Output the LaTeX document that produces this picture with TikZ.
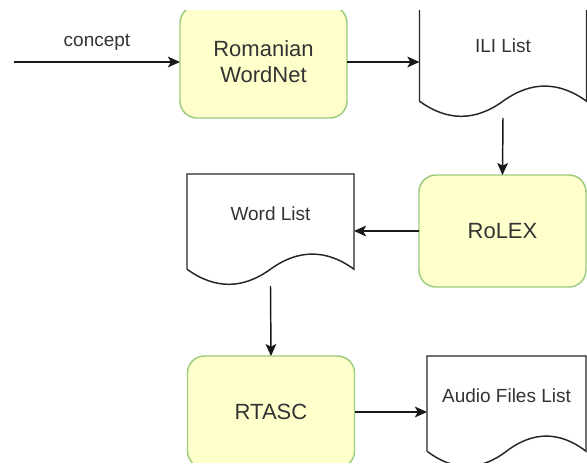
\documentclass[tikz,border=0pt]{standalone}
\usepackage{fontspec}
\setmainfont{Liberation Sans}
\usetikzlibrary{arrows.meta,calc}
\definecolor{boxfill}{HTML}{FFFFCC}
\definecolor{boxline}{HTML}{9CCC7E}
\definecolor{txt}{HTML}{333333}
\newcommand\docoutline[1]{%
  \draw[docline] ($(#1.south west)+(0,-16.8)$) -- (#1.north west) -- (#1.north east)
    -- ($(#1.south east)+(0,-16.8)$)
    .. controls ($(#1.south east)!0.16667!(#1.south west)+(0,-36.96)$)
       and ($(#1.south east)!0.33333!(#1.south west)+(0,-36.96)$) .. ($(#1.south)+(0,-16.8)$)
    .. controls ($(#1.south east)!0.66667!(#1.south west)+(0,3.36)$)
       and ($(#1.south east)!0.83333!(#1.south west)+(0,3.36)$) .. ($(#1.south west)+(0,-16.8)$);}
\begin{document}
\begin{tikzpicture}[x=0.75pt,y=-0.75pt,
  proc/.style={rectangle, rounded corners=12.75pt, draw=boxline, fill=boxfill, line width=1.1pt,
    minimum width=125.25pt, minimum height=84pt, inner sep=0pt, outer sep=0pt,
    text=txt, font=\fontsize{16.5}{19.5}\selectfont, align=center},
  doc/.style={rectangle, minimum height=84pt, inner sep=0pt, outer sep=0pt},
  doctext/.style={text=txt, font=\fontsize{14.25}{17}\selectfont, yshift=12.4pt},
  docline/.style={draw=black!85, line width=1.1pt},
  conn/.style={line width=1.1pt, draw=black!90, -{Stealth[length=9pt,width=8pt,inset=2pt]}},
  lbl/.style={text=txt, font=\fontsize{14.25}{17}\selectfont}]
\useasboundingbox[fill=white] (0,0) rectangle (587,464);
\clip (0,10) rectangle (587,462);

\node[proc] (wn) at (263.5,62) {Romanian\\WordNet};
\node[doc, minimum width=125.25pt, label={[doctext]center:ILI List}] (ili) at (503,62) {};
\node[proc] (rolex) at (502.5,231) {RoLEX};
\node[doc, minimum width=125.25pt, label={[doctext]center:Word List}] (wl) at (270.5,230) {};
\node[proc] (rt) at (271,412) {RTASC};
\node[doc, minimum width=119.25pt, label={[doctext]center:Audio Files List}] (af) at (506.5,412) {};

\docoutline{ili}
\docoutline{wl}
\docoutline{af}

\coordinate (cin) at (14,62);
\draw[conn] (cin) -- node[lbl, midway, yshift=15pt] {concept} (wn.west);
\draw[conn] (wn.east) -- (ili.west);
\draw[conn] (ili.south) -- (rolex.north);
\draw[conn] (rolex.west) -- (rolex.west -| wl.east);
\draw[conn] (wl.south) -- (rt.north);
\draw[conn] (rt.east) -- (af.west);
\end{tikzpicture}
\end{document}
